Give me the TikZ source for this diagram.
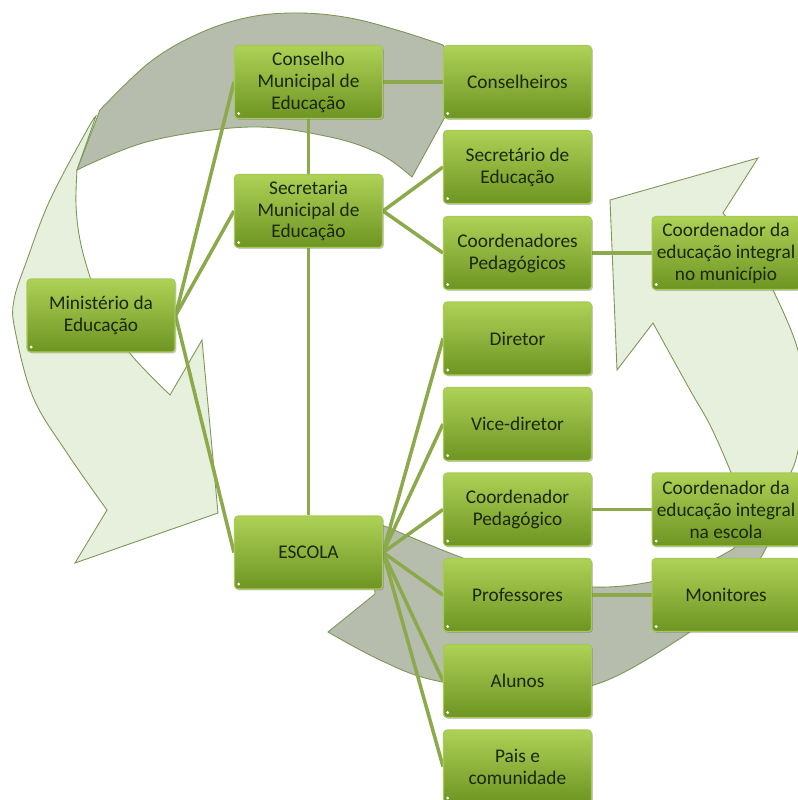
\documentclass[tikz,border=0pt]{standalone}
\usepackage{fontspec}
\setmainfont{Carlito}
\usetikzlibrary{shadows}
\definecolor{boxtop}{RGB}{174,209,86}
\definecolor{boxbot}{RGB}{110,148,34}
\definecolor{boxline}{RGB}{165,202,85}
\definecolor{txt}{RGB}{26,40,8}
\definecolor{conn}{RGB}{140,170,75}
\definecolor{arrgray}{RGB}{182,189,173}
\definecolor{arrgreen}{RGB}{231,240,221}
\definecolor{arrline}{RGB}{125,150,85}
\pgfdeclarelayer{bands}
\pgfdeclarelayer{links}
\pgfsetlayers{bands,links,main}
\begin{document}
\begin{tikzpicture}[x=0.02cm,y=-0.02cm,
  orgbox/.style={rectangle, rounded corners=2pt, minimum width=2.96cm, minimum height=1.46cm,
    inner sep=1pt, align=center, top color=boxtop, bottom color=boxbot, draw=boxline,
    line width=0.6pt, text=txt, font=\fontsize{11}{12.5}\selectfont,
    drop shadow={shadow xshift=0.8pt, shadow yshift=-0.8pt, opacity=0.35, fill=black!60},
    path picture={\fill[white] ([xshift=2.4pt,yshift=2.8pt]path picture bounding box.south west) circle (0.9pt);}},
  link/.style={draw=conn, line width=2pt},
  bandgray/.style={fill=arrgray, draw=arrline, line width=0.5pt},
  bandgreen/.style={fill=arrgreen, draw=arrline, line width=0.5pt}]
\useasboundingbox (0,0) rectangle (797,800);

\begin{pgfonlayer}{bands}
\fill[white] (0,0) rectangle (797,800);
% upper-left circular arrow: green part
\path[bandgreen] plot[smooth, tension=0.6] coordinates {(96,116) (87,130) (50,200) (27,260) (14,300) (15,330) (33,397) (67,453) (107,510)}
  -- (75,563) -- (218,513) -- (202,340) -- (170,395)
  -- plot[smooth, tension=0.6] coordinates {(170,395) (133,357) (105,318) (90,277) (80,240) (76,205) (77,170)}
  -- cycle;
% upper-left circular arrow: gray part
\path[bandgray] (77,170) -- (100,110)
  -- plot[smooth, tension=0.6] coordinates {(100,110) (150,62) (200,33) (250,17) (300,13) (350,18) (400,31) (443,45)}
  -- (470,85) -- (445,117) -- (412,177)
  -- plot[smooth, tension=0.6] coordinates {(412,177) (380,154) (330,137) (250,127) (150,141) (77,170)}
  -- cycle;
% lower-right circular arrow: green part
\path[bandgreen] plot[smooth, tension=0.6] coordinates {(738,562) (745,530) (741,500) (730,470) (710,425) (690,390) (653,323)}
  -- (617,370) -- (610,200) -- (758,158) -- (723,213)
  -- plot[smooth, tension=0.6] coordinates {(723,213) (750,248) (773,290) (797,347) (806,400) (797,455) (788,480) (772,530)}
  -- cycle;
% lower-right circular arrow: gray part
\path[bandgray] (328,632) -- (375,594) -- (372,522) -- (387,527)
  -- plot[smooth, tension=0.6] coordinates {(387,527) (463,558) (530,578) (593,587) (650,582) (700,566) (733,549)}
  -- (792,475)
  -- plot[smooth, tension=0.6] coordinates {(792,475) (770,540) (735,595) (690,632) (600,683) (520,692) (433,680) (380,660) (328,632)}
  -- cycle;
\end{pgfonlayer}

% nodes
\node[orgbox] (min)  at (101,315.5) {Ministério da\\Educação};
\node[orgbox] (cons) at (308.5,82) {Conselho\\Municipal de\\Educação};
\node[orgbox] (sec)  at (308.5,211) {Secretaria\\Municipal de\\Educação};
\node[orgbox] (esc)  at (308.5,552.5) {ESCOLA};
\node[orgbox] (conh) at (517.5,82) {Conselheiros};
\node[orgbox] (secr) at (517.5,167) {Secretário de\\Educação};
\node[orgbox] (cped) at (517.5,253) {Coordenadores\\Pedagógicos};
\node[orgbox] (dir)  at (517.5,338.5) {Diretor};
\node[orgbox] (vice) at (517.5,424) {Vice-diretor};
\node[orgbox] (cpe)  at (517.5,509.5) {Coordenador\\Pedagógico};
\node[orgbox] (prof) at (517.5,595) {Professores};
\node[orgbox] (alu)  at (517.5,681) {Alunos};
\node[orgbox] (pais) at (517.5,766.5) {Pais e\\comunidade};
\node[orgbox] (cmun) at (726,253) {Coordenador da\\educação integral\\no município};
\node[orgbox] (cesc) at (726,509.5) {Coordenador da\\educação integral\\na escola};
\node[orgbox] (mon)  at (726,595) {Monitores};

% connectors (behind boxes)
\begin{pgfonlayer}{links}
\draw[link] (min.east) -- (cons.west);
\draw[link] (min.east) -- (sec.west);
\draw[link] (min.east) -- (esc.west);
\draw[link] (cons.south) -- (sec.north);
\draw[link] (sec.south) -- (esc.north);
\draw[link] (cons.east) -- (conh.west);
\draw[link] (sec.east) -- (secr.west);
\draw[link] (sec.east) -- (cped.west);
\draw[link] (cped.east) -- (cmun.west);
\foreach \t in {dir,vice,cpe,prof,alu,pais}
  \draw[link] (esc.east) -- (\t.west);
\draw[link] (cpe.east) -- (cesc.west);
\draw[link] (prof.east) -- (mon.west);
\end{pgfonlayer}
\end{tikzpicture}
\end{document}
